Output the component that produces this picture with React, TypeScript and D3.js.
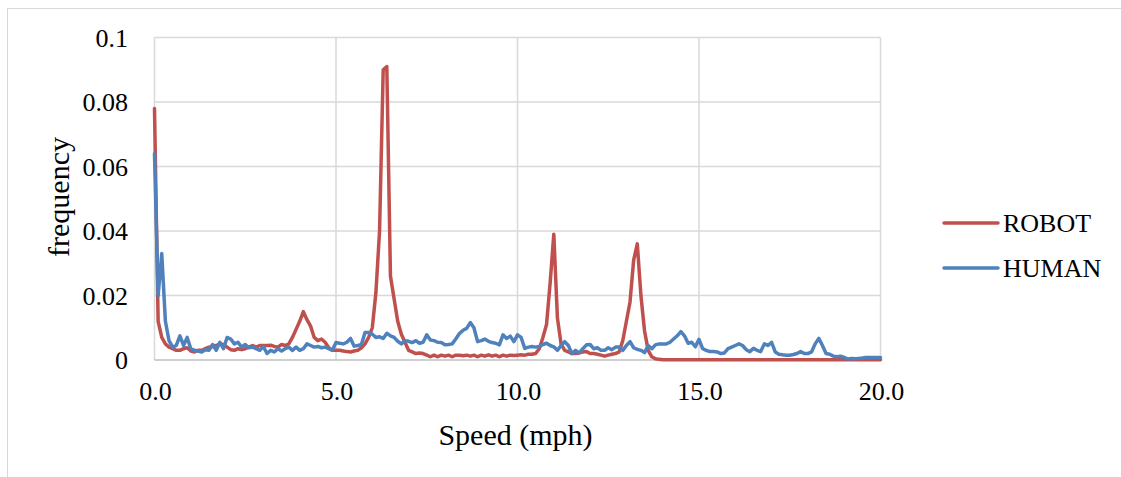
import * as d3 from "d3";
import React, {useEffect, useRef} from "react";

// speed categories, 0.0 .. 20.0 mph in 0.1 steps
const speeds: number[] = d3.range(201).map((i) => i / 10);

const robot: number[] = [
  0.078, 0.012, 0.007, 0.005, 0.004, 0.0035, 0.003, 0.003, 0.0035, 0.0038,
  0.0028, 0.0025, 0.003, 0.003, 0.0035, 0.004, 0.0042, 0.0045, 0.005, 0.0048,
  0.004, 0.0032, 0.003, 0.0035, 0.0032, 0.0035, 0.004, 0.0045, 0.004, 0.0045,
  0.0045, 0.0045, 0.0046, 0.0042, 0.004, 0.0048, 0.0045, 0.005, 0.007, 0.0095,
  0.012, 0.015, 0.0125, 0.0105, 0.007, 0.006, 0.0065, 0.0055, 0.0038, 0.003,
  0.003, 0.003, 0.0028, 0.0026, 0.0025, 0.0028, 0.003, 0.0038, 0.005, 0.007,
  0.010, 0.021, 0.040, 0.090, 0.091, 0.026, 0.019, 0.012, 0.008, 0.0055,
  0.003, 0.0025, 0.002, 0.0022, 0.002, 0.0015, 0.001, 0.0015, 0.001, 0.0015,
  0.0012, 0.0015, 0.001, 0.0015, 0.0015, 0.0013, 0.0015, 0.0012, 0.0015, 0.001,
  0.0015, 0.0012, 0.0016, 0.0012, 0.0015, 0.001, 0.0015, 0.0012, 0.0015, 0.0014,
  0.0015, 0.0016, 0.0015, 0.0018, 0.0018, 0.002, 0.0035, 0.007, 0.011, 0.024,
  0.039, 0.013, 0.005, 0.003, 0.0025, 0.002, 0.002, 0.0022, 0.0025, 0.0026,
  0.002, 0.002, 0.0018, 0.0015, 0.0012, 0.0015, 0.0018, 0.002, 0.0025, 0.006,
  0.012, 0.018, 0.031, 0.036, 0.020, 0.009, 0.003, 0.001, 0.0004, 0.0002,
  0.0001, 0.0001, 0.0001, 0.0001, 0.0001, 0.0001, 0.0001, 0.0001, 0.0001, 0.0001,
  0.0001, 0.0001, 0.0001, 0.0001, 0.0001, 0.0001, 0.0001, 0.0001, 0.0001, 0.0001,
  0.0001, 0.0001, 0.0001, 0.0001, 0.0001, 0.0001, 0.0001, 0.0001, 0.0001, 0.0001,
  0.0001, 0.0001, 0.0001, 0.0001, 0.0001, 0.0001, 0.0001, 0.0001, 0.0001, 0.0001,
  0.0001, 0.0001, 0.0001, 0.0001, 0.0001, 0.0001, 0.0001, 0.0001, 0.0001, 0.0001,
  0.0001, 0.0001, 0.0001, 0.0001, 0.0001, 0.0001, 0.0001, 0.0001, 0.0001, 0.0001,
  0.0001,
];

const human: number[] = [
  0.064, 0.020, 0.033, 0.012, 0.006, 0.004, 0.0045, 0.0075, 0.0045, 0.007,
  0.0035, 0.003, 0.0028, 0.0025, 0.0032, 0.003, 0.0048, 0.003, 0.0055, 0.0035,
  0.007, 0.0065, 0.005, 0.0055, 0.004, 0.0048, 0.0038, 0.004, 0.0035, 0.003,
  0.0042, 0.002, 0.003, 0.0025, 0.0035, 0.0028, 0.0035, 0.004, 0.003, 0.004,
  0.003, 0.0035, 0.005, 0.0045, 0.004, 0.0042, 0.0038, 0.004, 0.0035, 0.003,
  0.0054, 0.0052, 0.005, 0.0055, 0.0067, 0.0043, 0.0045, 0.0048, 0.0085, 0.0085,
  0.008, 0.007, 0.0072, 0.0067, 0.0083, 0.0075, 0.007, 0.0058, 0.005, 0.006,
  0.0058, 0.0054, 0.006, 0.0052, 0.0055, 0.0078, 0.0062, 0.006, 0.0055, 0.0054,
  0.0047, 0.0048, 0.005, 0.0065, 0.0082, 0.0092, 0.0098, 0.0116, 0.010, 0.0057,
  0.006, 0.0065, 0.0058, 0.0054, 0.0052, 0.0047, 0.0078, 0.0067, 0.0074, 0.0057,
  0.0078, 0.007, 0.0036, 0.004, 0.0042, 0.004, 0.0042, 0.0048, 0.0052, 0.0045,
  0.0041, 0.003, 0.0045, 0.0057, 0.0045, 0.002, 0.003, 0.0022, 0.0035, 0.0047,
  0.0048, 0.0035, 0.0038, 0.003, 0.003, 0.0038, 0.0032, 0.004, 0.004, 0.003,
  0.0045, 0.0057, 0.0038, 0.0033, 0.003, 0.0023, 0.0045, 0.0035, 0.0047, 0.005,
  0.005, 0.005, 0.0055, 0.0065, 0.0075, 0.0088, 0.0075, 0.0052, 0.0055, 0.0041,
  0.0064, 0.0035, 0.003, 0.0026, 0.0026, 0.0025, 0.002, 0.0022, 0.0035, 0.004,
  0.0045, 0.005, 0.0045, 0.0032, 0.0026, 0.0036, 0.003, 0.0026, 0.005, 0.0045,
  0.0055, 0.0025, 0.0018, 0.0016, 0.0015, 0.0015, 0.0017, 0.002, 0.0026, 0.002,
  0.002, 0.0025, 0.005, 0.0067, 0.0045, 0.002, 0.0018, 0.0012, 0.001, 0.0012,
  0.0008, 0.0003, 0.0005, 0.0004, 0.0005, 0.0006, 0.0008, 0.0008, 0.0008, 0.0008,
  0.0008,
];

const xTicks: number[] = [0, 5, 10, 15, 20];
const yTicks: number[] = [0, 0.02, 0.04, 0.06, 0.08, 0.1];
const yTickLabels: string[] = ["0", "0.02", "0.04", "0.06", "0.08", "0.1"];

const seriesList = [
  {name: "ROBOT", values: robot, color: "#c0504d"},
  {name: "HUMAN", values: human, color: "#4f81bd"},
];

const App: React.FC = () => {
  const ref = useRef<SVGSVGElement | null>(null);

  useEffect(() => {
    const width = 1121;
    const height = 477;
    // plot area in page pixels
    const plot = {left: 154.5, right: 880.5, top: 37.5, bottom: 360};
    const font = "'Liberation Serif', 'Times New Roman', serif";

    const svg = d3.select(ref.current);
    svg.selectAll("*").remove();
    svg.attr("width", width).attr("height", height);

    // chart frame
    svg.append("rect")
      .attr("x", 7.5).attr("y", 8.5)
      .attr("width", width).attr("height", height)
      .attr("fill", "white")
      .attr("stroke", "#d9d9d9")
      .attr("stroke-width", 1);

    const xScale = d3.scaleLinear()
      .domain([0, 20])
      .range([plot.left, plot.right]);

    const yScale = d3.scaleLinear()
      .domain([0, 0.1])
      .range([plot.bottom, plot.top]);

    // grid
    svg.append("g")
      .selectAll("line")
      .data(yTicks.slice(1))
      .enter().append("line")
      .attr("x1", xScale(0)).attr("x2", xScale(20))
      .attr("y1", (d) => yScale(d)).attr("y2", (d) => yScale(d))
      .attr("stroke", "#d9d9d9").attr("stroke-width", 1.5);

    svg.append("g")
      .selectAll("line")
      .data(xTicks)
      .enter().append("line")
      .attr("x1", (d) => xScale(d)).attr("x2", (d) => xScale(d))
      .attr("y1", yScale(0)).attr("y2", yScale(0.1))
      .attr("stroke", "#d9d9d9").attr("stroke-width", 1.5);

    // x axis baseline
    svg.append("line")
      .attr("x1", xScale(0)).attr("x2", xScale(20))
      .attr("y1", yScale(0)).attr("y2", yScale(0))
      .attr("stroke", "#bfbfbf").attr("stroke-width", 1.5);

    // tick labels
    svg.append("g")
      .selectAll("text")
      .data(yTicks)
      .enter().append("text")
      .attr("x", 128)
      .attr("y", (d) => yScale(d) + 9)
      .attr("text-anchor", "end")
      .style("font-family", font)
      .style("font-size", "26px")
      .attr("fill", "#000")
      .text((d, i) => yTickLabels[i]);

    svg.append("g")
      .selectAll("text")
      .data(xTicks)
      .enter().append("text")
      .attr("x", (d) => xScale(d) + 1)
      .attr("y", 400)
      .attr("text-anchor", "middle")
      .style("font-family", font)
      .style("font-size", "26px")
      .attr("fill", "#000")
      .text((d) => d.toFixed(1));

    // axis titles
    svg.append("text")
      .attr("x", xScale(10) - 2)
      .attr("y", 445)
      .attr("text-anchor", "middle")
      .style("font-family", font)
      .style("font-size", "30px")
      .text("Speed (mph)");

    svg.append("g")
      .attr("transform", "translate(69, 197)")
      .append("text")
      .attr("text-anchor", "middle")
      .attr("transform", "rotate(-90)")
      .style("font-family", font)
      .style("font-size", "30px")
      .text("frequency");

    // lines
    const line = d3.line<number>()
      .x((d, i) => xScale(speeds[i]))
      .y((d) => yScale(d));

    seriesList.forEach((s) => {
      svg.append("path")
        .datum(s.values)
        .attr("fill", "none")
        .attr("stroke", s.color)
        .attr("stroke-width", 3.5)
        .attr("stroke-linejoin", "round")
        .attr("stroke-linecap", "round")
        .attr("d", line);
    });

    // legend
    const legend = svg.append("g")
      .selectAll("g")
      .data(seriesList)
      .enter().append("g")
      .attr("transform", (d, i) => `translate(944, ${223 + i * 45})`);

    legend.append("line")
      .attr("x1", 0).attr("x2", 54)
      .attr("stroke", (d) => d.color)
      .attr("stroke-width", 3.5)
      .attr("stroke-linecap", "round");

    legend.append("text")
      .attr("x", 59)
      .attr("y", 9)
      .style("font-family", font)
      .style("font-size", "26px")
      .text((d) => d.name);

    return () => {
      svg.selectAll("*").remove();
    };
  }, []);

  return <svg ref={ref} style={{position: "absolute", left: 0, top: 0}}/>;
};

export default App;
